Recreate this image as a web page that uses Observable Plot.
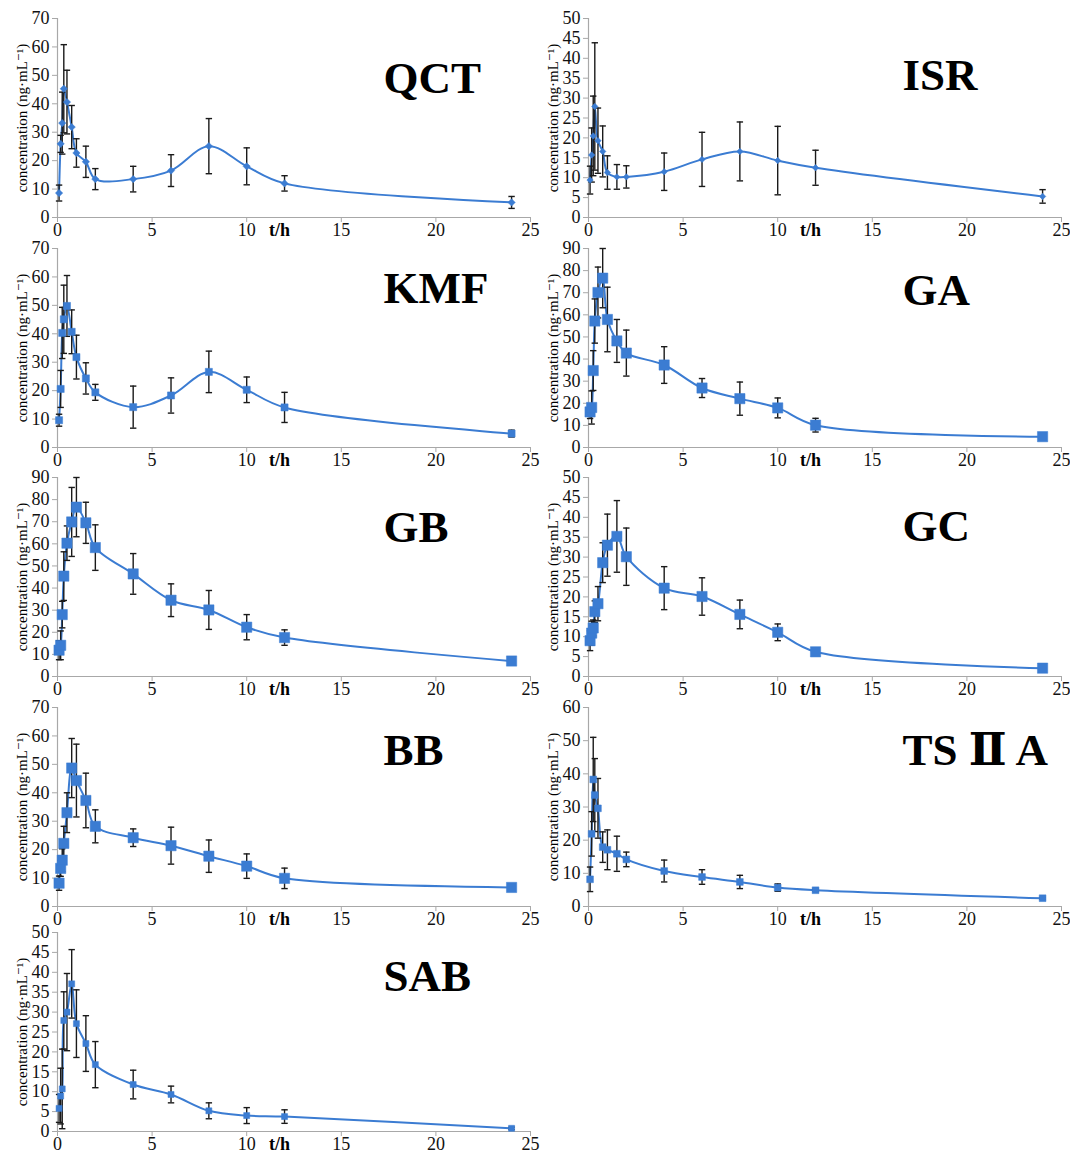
<!DOCTYPE html>
<html><head><meta charset="utf-8">
<script src="https://cdn.jsdelivr.net/npm/d3@7"></script>
<script src="https://cdn.jsdelivr.net/npm/@observablehq/plot@0.6"></script>
<style>
body{margin:0;background:#fff;}
#wrap{position:relative;width:1070px;height:1155px;overflow:hidden;background:#fff;}
#wrap svg{position:absolute;overflow:visible;background:transparent;}
#wrap svg, #wrap svg text{font-family:"Liberation Serif","DejaVu Serif",serif !important;}
</style></head><body><div id="wrap"></div>
<script>
// sampling times (h)
const times = [0.083, 0.167, 0.25, 0.333, 0.5, 0.75, 1, 1.5, 2, 4, 6, 8, 10, 12, 24];
const xTicks = [0, 5, 10, 15, 20, 25];
const xLabel = "t/h";
const yLabel = "concentration (ng·mL⁻¹)";

// mean concentrations and SD (ng/mL)
const qctMean = [8.6, 25.9, 33.2, 45.3, 40.6, 31.8, 22.7, 19.6, 13.5, 13.5, 16.5, 25.1, 18.0, 12.0, 5.3];
const qctSD   = [2.8, 3.0, 10.9, 15.5, 11.2, 7.6, 5.0, 5.5, 3.7, 4.5, 5.6, 9.7, 6.5, 2.7, 2.1];
const isrMean = [9.4, 15.7, 20.5, 27.9, 19.3, 16.6, 11.3, 10.2, 10.2, 11.5, 14.6, 16.6, 14.3, 12.5, 5.3];
const isrSD   = [3.5, 6.8, 10.0, 16.0, 8.2, 6.4, 4.2, 3.1, 2.8, 4.7, 6.8, 7.4, 8.6, 4.4, 1.7];
const kmfMean = [9.6, 20.6, 40.3, 45.1, 49.8, 40.7, 31.8, 24.3, 19.4, 14.2, 18.3, 26.6, 20.3, 14.1, 4.9];
const kmfSD   = [2.1, 6.5, 9.0, 12.0, 10.7, 7.7, 7.7, 5.5, 2.8, 7.4, 6.2, 7.3, 4.5, 5.3, 1.2];
const gaMean  = [16.1, 18.1, 34.8, 57.2, 70.1, 76.6, 57.9, 48.2, 42.7, 37.3, 26.9, 22.1, 17.9, 10.1, 4.9];
const gaSD    = [3.0, 7.5, 9.0, 10.0, 11.5, 13.4, 14.6, 9.7, 10.4, 8.3, 4.3, 7.5, 4.5, 3.1, 0.5];
const gbMean  = [11.9, 14.1, 28.0, 45.4, 60.3, 69.9, 76.6, 69.5, 58.3, 46.4, 34.5, 30.1, 22.3, 17.6, 7.0];
const gbSD    = [4.3, 6.5, 6.0, 11.0, 7.8, 15.6, 13.4, 9.3, 10.3, 9.2, 7.4, 8.8, 5.7, 3.5, 1.0];
const gcMean  = [9.0, 10.9, 12.2, 16.3, 18.3, 28.6, 33.0, 35.2, 30.1, 22.2, 20.1, 15.6, 11.1, 6.2, 2.1];
const gcSD    = [2.5, 3.0, 2.0, 2.7, 4.3, 5.0, 7.8, 9.0, 7.2, 5.4, 4.7, 3.6, 2.1, 0.8, 0.8];
const bbMean  = [8.2, 13.4, 16.3, 22.2, 33.0, 48.7, 44.3, 37.3, 28.2, 24.2, 21.4, 17.7, 14.2, 9.9, 6.7];
const bbSD    = [2.5, 2.8, 4.0, 6.0, 7.0, 10.4, 12.8, 9.6, 5.8, 3.1, 6.5, 5.7, 4.3, 3.6, 0.5];
const tsMean  = [8.2, 21.9, 38.3, 33.6, 29.6, 17.9, 17.1, 15.9, 14.2, 10.7, 8.9, 7.4, 5.7, 4.9, 2.5];
const tsSD    = [3.7, 6.7, 12.7, 11.0, 9.0, 4.6, 6.0, 5.3, 2.2, 3.3, 2.2, 2.0, 1.1, 0.4, 0.3];
const sabMean = [5.8, 8.9, 10.7, 27.9, 30.0, 37.1, 27.1, 22.1, 16.8, 11.8, 9.3, 5.2, 4.0, 3.75, 0.8];
const sabSD   = [3.5, 7.0, 10.0, 7.2, 9.7, 8.6, 8.5, 7.0, 5.8, 3.6, 2.1, 2.0, 2.0, 1.7, 0.3];

const names = ["QCT", "ISR", "KMF", "GA", "GB", "GC", "BB", "TS Ⅱ A", "SAB"];
const means = [qctMean, isrMean, kmfMean, gaMean, gbMean, gcMean, bbMean, tsMean, sabMean];
const sds   = [qctSD, isrSD, kmfSD, gaSD, gbSD, gcSD, bbSD, tsSD, sabSD];
const yMaxes = [70, 50, 70, 90, 90, 50, 70, 60, 50];
const ySteps = [10, 5, 10, 10, 10, 5, 10, 10, 5];

// presentation
const BLUE = "#3B7CD2";
const BAR = "#1a1a1a";
const AXIS = "#a8a8a8";
const symbols = ["diamond2", "diamond2", "square", "square", "square", "square", "square", "square", "square"];
const radii = [3.3, 2.9, 4.0, 5.8, 5.8, 5.8, 5.8, 3.8, 3.4];
const titleDy = [74, 71, 54, 56, 64, 63, 57, 57, 58];
const colLeft = [0, 530], axisOff = [57, 58], titleDx = [326, 314];
const rowTop = [0, 230, 459, 689, 914];
const cap = {draw(ctx) { ctx.moveTo(-3.2, 0); ctx.lineTo(3.2, 0); }};

const wrap = document.getElementById("wrap");
names.forEach((name, k) => {
  const col = k % 2, row = Math.floor(k / 2);
  const data = times.map((t, i) => ({t, c: means[k][i], lo: means[k][i] - sds[k][i], hi: means[k][i] + sds[k][i]}));
  const chart = Plot.plot({
    width: 540, height: 251,
    marginTop: 18, marginBottom: 34,
    marginLeft: axisOff[col], marginRight: 540 - axisOff[col] - 473,
    x: {domain: [0, 25]},
    y: {domain: [0, yMaxes[k]]},
    style: {fontSize: "18px", background: "transparent", overflow: "visible", color: "#111"},
    marks: [
      Plot.ruleY([0], {stroke: AXIS, strokeWidth: 1.2}),
      Plot.ruleX([0], {stroke: AXIS, strokeWidth: 1.2}),
      Plot.axisY({ticks: d3.range(0, yMaxes[k] + 1, ySteps[k]), tickSize: 5, tickPadding: 3, stroke: AXIS, fill: "#111", fontSize: 18, label: null}),
      Plot.axisX({ticks: xTicks, tickSize: 5, tickPadding: 1, stroke: AXIS, fill: "#111", fontSize: 18, label: null}),
      Plot.line(data, {x: "t", y: "c", curve: "catmull-rom", stroke: BLUE, strokeWidth: 2}),
      Plot.ruleX(data, {x: "t", y1: "lo", y2: "hi", stroke: BAR, strokeWidth: 1.4}),
      Plot.dot(data, {x: "t", y: "lo", symbol: cap, fill: "none", stroke: BAR, strokeWidth: 1.4}),
      Plot.dot(data, {x: "t", y: "hi", symbol: cap, fill: "none", stroke: BAR, strokeWidth: 1.4}),
      Plot.dot(data, {x: "t", y: "c", symbol: symbols[k], r: radii[k], fill: BLUE, stroke: BLUE, strokeWidth: 0.5}),
      Plot.text([name], {frameAnchor: "top-left", dx: titleDx[col], dy: titleDy[k], textAnchor: "start", lineAnchor: "bottom", fontSize: 45, fontWeight: "bold", fill: "#000"}),
      Plot.text([xLabel], {frameAnchor: "bottom-left", dx: 222, dy: 13, textAnchor: "middle", lineAnchor: "middle", fontSize: 18, fontWeight: "bold", fill: "#000"}),
      Plot.text([yLabel], {frameAnchor: "left", dx: -35, rotate: -90, textAnchor: "middle", lineAnchor: "middle", fontSize: 15, fill: "#000"})
    ]
  });
  chart.style.left = colLeft[col] + "px";
  chart.style.top = rowTop[row] + "px";
  wrap.append(chart);
});
</script>
</body></html>
